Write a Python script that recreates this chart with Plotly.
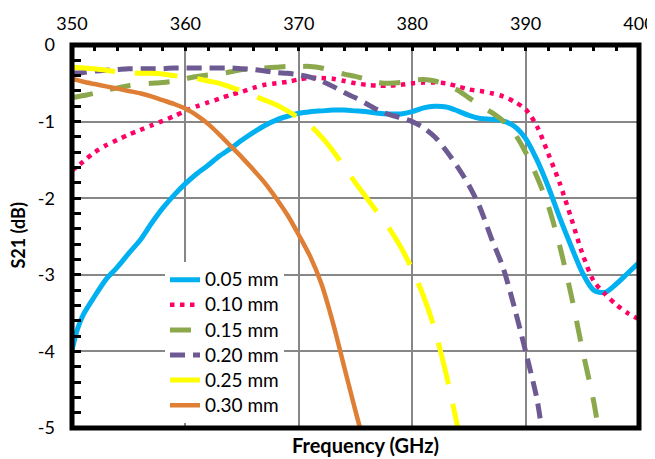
import plotly.graph_objects as go

# ---- data ----
names = ["0.05 mm", "0.10 mm", "0.15 mm", "0.20 mm", "0.25 mm", "0.30 mm"]

x_005 = [350, 350.5, 351, 352, 353, 354, 355, 356, 357, 358, 359, 360, 361, 362, 363, 364, 365,
         366, 367, 368, 369, 370, 371, 372, 373, 374, 375, 376, 377, 378, 379, 380, 381, 382,
         383, 384, 385, 386, 387, 388, 389, 390, 391, 392, 393, 394, 395, 396, 397, 398, 399, 400]
y_005 = [-3.98, -3.70, -3.52, -3.28, -3.06, -2.90, -2.72, -2.55, -2.33, -2.13, -1.96, -1.81, -1.68,
         -1.57, -1.45, -1.35, -1.24, -1.14, -1.05, -0.98, -0.93, -0.89, -0.87, -0.86, -0.85, -0.85,
         -0.86, -0.87, -0.89, -0.90, -0.90, -0.87, -0.82, -0.80, -0.81, -0.86, -0.92, -0.96, -0.97,
         -0.99, -1.06, -1.22, -1.50, -1.85, -2.25, -2.62, -2.97, -3.20, -3.23, -3.12, -2.98, -2.84]

x_010 = list(range(350, 401))
y_010 = [-1.64, -1.52, -1.40, -1.31, -1.24, -1.17, -1.11, -1.05, -0.99, -0.93, -0.86,
         -0.80, -0.75, -0.70, -0.65, -0.61, -0.56, -0.52, -0.50, -0.48, -0.45,
         -0.43, -0.43, -0.44, -0.47, -0.50, -0.52, -0.53, -0.53, -0.52, -0.50,
         -0.49, -0.49, -0.50, -0.54, -0.58, -0.60, -0.63, -0.67, -0.74, -0.84,
         -1.06, -1.42, -1.80, -2.25, -2.72, -3.08, -3.25, -3.39, -3.50, -3.58]

x_015 = list(range(350, 397)) + [396.4]
y_015 = [-0.69, -0.66, -0.63, -0.59, -0.56, -0.53, -0.51, -0.50, -0.49, -0.47, -0.44,
         -0.41, -0.39, -0.38, -0.35, -0.32, -0.31, -0.30, -0.29, -0.28, -0.28,
         -0.28, -0.30, -0.34, -0.38, -0.41, -0.45, -0.49, -0.50, -0.49, -0.46,
         -0.45, -0.47, -0.52, -0.59, -0.69, -0.79, -0.88, -0.99, -1.15, -1.40,
         -1.72, -2.10, -2.62, -3.25, -3.97, -4.65, -5.00]

x_020 = list(range(350, 392)) + [391.4]
y_020 = [-0.37, -0.36, -0.34, -0.33, -0.32, -0.31, -0.31, -0.31, -0.31, -0.30, -0.30,
         -0.30, -0.30, -0.30, -0.30, -0.31, -0.32, -0.34, -0.36, -0.37, -0.39,
         -0.42, -0.47, -0.54, -0.62, -0.69, -0.77, -0.85, -0.91, -0.95, -1.00,
         -1.08, -1.20, -1.38, -1.59, -1.83, -2.13, -2.53, -2.90, -3.42, -4.00,
         -4.62, -5.00]

x_025 = list(range(350, 385))
y_025 = [-0.29, -0.30, -0.31, -0.33, -0.35, -0.36, -0.37, -0.37, -0.38, -0.40, -0.42,
         -0.44, -0.47, -0.50, -0.55, -0.60, -0.66, -0.72, -0.78, -0.86, -0.95,
         -1.05, -1.20, -1.38, -1.59, -1.80, -2.00, -2.20, -2.40, -2.64, -2.93,
         -3.28, -3.72, -4.30, -4.98]

x_030 = list(range(350, 376)) + [375.4]
y_030 = [-0.44, -0.48, -0.51, -0.54, -0.57, -0.60, -0.63, -0.67, -0.72, -0.77, -0.83,
         -0.92, -1.03, -1.17, -1.32, -1.47, -1.63, -1.80, -2.00, -2.22, -2.48,
         -2.76, -3.12, -3.62, -4.20, -4.78, -5.00]

x_ticks = [350, 360, 370, 380, 390, 400]
y_ticks = [0, -1, -2, -3, -4, -5]
y_ticktext = ["0", "-1", "-2", "-3", "-4", "-5"]

# ---- styles ----
colors = ["#00B0F0", "#FF0066", "#8CA84C", "#6E5A93", "#FFFF00", "#DE7F35"]
dashes = ["solid", "4.5px,5.5px", "21px,18px", "15px,8px", "43px,20px", "solid"]
widths = [5, 4.5, 5, 5, 5, 4.5]

xs = [x_005, x_010, x_015, x_020, x_025, x_030]
ys = [y_005, y_010, y_015, y_020, y_025, y_030]

FONT = "Lato, 'Open Sans', sans-serif"

fig = go.Figure()
for i in range(6):
    fig.add_trace(go.Scatter(
        x=xs[i], y=ys[i], mode="lines",
        name="<span style='font-size:19px'>" + names[i] + "</span>",
        line=dict(color=colors[i], width=widths[i], dash=dashes[i], shape="spline", smoothing=0.8),
    ))

axis_common = dict(
    showline=False, showgrid=True, gridcolor="#878787", gridwidth=2,
    zeroline=False, ticks="inside", tickcolor="black", tickwidth=2.5,
    automargin=False,
    tickfont=dict(family=FONT, size=18, color="black"),
)

fig.update_xaxes(
    range=[350, 400], side="top", tickmode="array", tickvals=x_ticks,
    ticklen=6, ticklabelstandoff=10,
    minor=dict(tickmode="linear", tick0=350, dtick=2, ticks="inside", ticklen=6,
               tickwidth=2.5, tickcolor="black", showgrid=False),
    **axis_common,
)
fig.update_yaxes(
    range=[-5, 0], tickmode="array", tickvals=y_ticks, ticktext=y_ticktext,
    ticklen=9, ticklabelstandoff=16,
    minor=dict(tickmode="linear", tick0=0, dtick=0.2, ticks="inside", ticklen=9,
               tickwidth=2.5, tickcolor="black", showgrid=False),
    **axis_common,
)

fig.add_shape(type="rect", xref="paper", yref="paper", x0=0, x1=1, y0=0, y1=1,
              line=dict(color="black", width=5), layer="above")

fig.add_annotation(text="<b>Frequency (GHz)</b>", xref="paper", yref="paper",
                   x=0.517, y=-0.045, xanchor="center", yanchor="middle", showarrow=False,
                   font=dict(family=FONT, size=20, color="black"))
fig.add_annotation(text="<b>S21 (dB)</b>", xref="paper", yref="paper",
                   x=-0.096, y=0.504, xanchor="center", yanchor="middle", showarrow=False,
                   textangle=-90, font=dict(family=FONT, size=18, color="black"))

# the page body adds an 8px offset, so the figure is 8px smaller and margins shifted
fig.update_layout(
    width=647, height=451,
    margin=dict(l=64, r=16, t=37, b=31, autoexpand=False),
    paper_bgcolor="white", plot_bgcolor="white",
    showlegend=True,
    legend=dict(x=0.164, y=0.433, xanchor="left", yanchor="top",
                bgcolor="white", borderwidth=0,
                font=dict(family=FONT, size=17, color="black")),
)

fig.write_html("out.html")
